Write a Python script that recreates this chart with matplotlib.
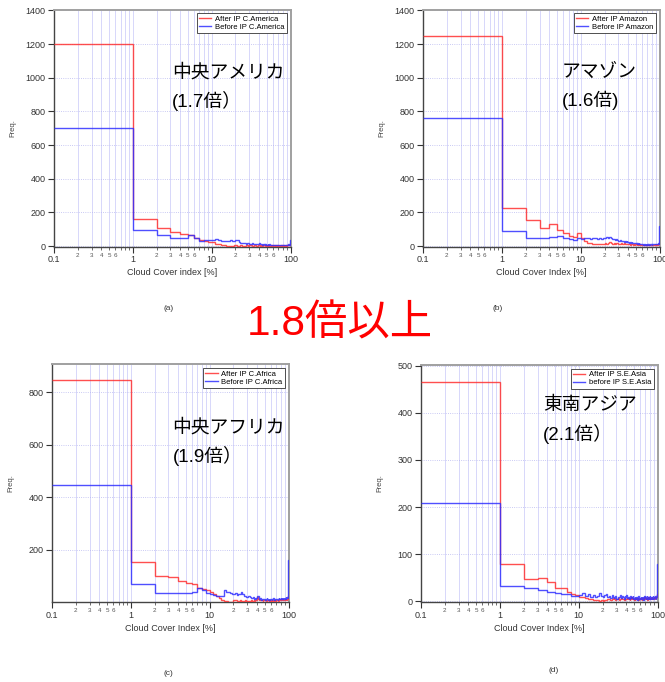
import numpy as np
import matplotlib.pyplot as plt
from matplotlib.ticker import LogLocator, FixedLocator, FuncFormatter, NullFormatter

plt.rcParams['font.family'] = ['Liberation Sans', 'Noto Sans CJK JP', 'DejaVu Sans']

# bin edges: one wide bin 0.1-1 %, then 1 % bins up to 100 %
edges = [0.1] + list(range(1, 101))

# C.America
a_after = [1200,
           160, 110, 85, 70, 68, 45, 35, 30, 25,
           22, 15, 10, 6, 4, 3, 2, 2, 3, 4,
           5, 3, 2, 4, 3, 2, 3, 5, 4, 3,
           4, 5, 3, 2, 4, 6, 3, 2, 3, 4,
           5, 3, 4, 2, 3, 5, 4, 3, 2, 4,
           3, 2, 4, 5, 3, 2, 3, 4, 2, 3,
           4, 3, 2, 3, 5, 4, 2, 3, 4, 3,
           2, 4, 3, 5, 3, 2, 4, 3, 2, 4,
           3, 5, 4, 2, 3, 4, 3, 2, 5, 4,
           3, 4, 6, 5, 4, 6, 5, 7, 8, 12]
a_before = [700,
            95, 65, 50, 48, 65, 45, 30, 35, 35,
            35, 40, 38, 30, 32, 28, 30, 33, 30, 28,
            35, 33, 22, 20, 18, 20, 17, 15, 18, 16,
            15, 14, 16, 12, 15, 13, 11, 14, 12, 10,
            18, 12, 10, 11, 9, 10, 12, 8, 10, 9,
            8, 10, 7, 9, 11, 8, 6, 9, 7, 8,
            6, 8, 7, 5, 9, 6, 7, 5, 8, 6,
            5, 7, 6, 8, 5, 4, 7, 6, 5, 8,
            6, 5, 7, 9, 6, 5, 8, 6, 7, 5,
            7, 9, 6, 8, 10, 7, 9, 8, 12, 35]

# Amazon
b_after = [1245,
           225, 155, 110, 130, 95, 75, 60, 55, 75,
           45, 30, 20, 18, 15, 12, 14, 10, 12, 15,
           18, 15, 20, 22, 18, 15, 17, 14, 18, 20,
           15, 12, 18, 14, 10, 16, 12, 15, 10, 12,
           14, 10, 8, 12, 15, 10, 8, 12, 9, 11,
           10, 8, 12, 9, 7, 10, 8, 6, 9, 8,
           6, 8, 5, 7, 9, 6, 5, 8, 6, 7,
           5, 7, 6, 4, 8, 6, 5, 7, 9, 6,
           8, 6, 9, 7, 5, 8, 10, 7, 9, 8,
           10, 8, 12, 9, 11, 13, 10, 12, 15, 20]
b_before = [760,
            90, 50, 50, 55, 60, 45, 40, 35, 45,
            40, 45, 48, 42, 45, 50, 44, 48, 42, 46,
            50, 55, 48, 52, 45, 40, 44, 38, 42, 36,
            32, 35, 30, 28, 32, 26, 30, 25, 28, 22,
            25, 20, 24, 18, 22, 20, 17, 21, 19, 16,
            18, 15, 17, 14, 16, 13, 15, 12, 14, 11,
            10, 12, 9, 11, 13, 10, 8, 11, 9, 12,
            10, 8, 11, 13, 9, 12, 10, 14, 11, 9,
            12, 10, 13, 11, 14, 12, 10, 13, 15, 12,
            14, 12, 15, 13, 16, 14, 17, 15, 18, 120]

# C.Africa
c_after = [848,
           155, 100, 95, 80, 72, 68, 55, 50, 45,
           38, 32, 22, 15, 8, 5, 3, 2, 1, 2,
           8, 10, 6, 4, 8, 6, 3, 5, 7, 4,
           6, 4, 5, 8, 6, 4, 7, 5, 8, 10,
           18, 12, 9, 8, 10, 7, 9, 6, 8, 10,
           7, 9, 6, 8, 10, 7, 5, 8, 6, 9,
           7, 5, 8, 10, 6, 9, 7, 5, 8, 6,
           9, 7, 10, 8, 6, 9, 11, 7, 8, 10,
           8, 11, 9, 7, 10, 12, 8, 10, 9, 11,
           10, 12, 9, 11, 13, 10, 12, 14, 15, 25]
c_before = [447,
            70, 35, 36, 36, 37, 38, 55, 45, 35,
            30, 28, 25, 22, 25, 45, 40, 38, 35, 32,
            30, 35, 28, 32, 30, 38, 30, 25, 22, 20,
            18, 22, 20, 17, 15, 18, 14, 16, 12, 15,
            25, 22, 14, 12, 15, 10, 13, 11, 14, 12,
            10, 13, 11, 15, 12, 9, 12, 10, 14, 11,
            12, 10, 13, 11, 15, 12, 10, 14, 11, 13,
            11, 14, 12, 10, 13, 15, 11, 14, 12, 16,
            13, 11, 15, 12, 14, 16, 12, 15, 13, 17,
            14, 16, 13, 18, 15, 17, 20, 16, 25, 160]

# S.E.Asia
d_after = [465,
           80, 47, 49, 41, 28, 28, 20, 15, 14,
           10, 9, 6, 5, 4, 3, 2, 2, 1, 2,
           1, 3, 2, 4, 5, 3, 4, 6, 5, 3,
           4, 6, 3, 5, 7, 4, 5, 3, 6, 4,
           5, 7, 4, 6, 3, 5, 8, 4, 6, 5,
           3, 6, 4, 7, 5, 4, 6, 3, 5, 7,
           4, 6, 5, 3, 7, 5, 4, 6, 8, 5,
           6, 4, 7, 5, 3, 6, 8, 5, 4, 7,
           5, 7, 4, 6, 8, 5, 7, 4, 6, 8,
           6, 8, 5, 7, 9, 6, 8, 10, 12, 15]
d_before = [208,
            33, 29, 24, 20, 17, 16, 15, 12, 12,
            14, 18, 12, 16, 10, 13, 9, 12, 18, 11,
            8, 13, 15, 9, 12, 7, 14, 10, 6, 12,
            5, 10, 8, 13, 6, 11, 9, 4, 12, 8,
            14, 7, 10, 5, 9, 12, 6, 8, 11, 4,
            7, 10, 5, 9, 6, 3, 8, 11, 5, 7,
            4, 9, 6, 10, 5, 8, 3, 7, 11, 6,
            9, 4, 8, 12, 5, 7, 10, 4, 8, 6,
            11, 5, 9, 7, 4, 10, 6, 12, 5, 8,
            7, 10, 6, 12, 8, 5, 11, 9, 14, 80]

panels = [
    # rect, after, before, legend labels, y ticks, ylim, xlabel, note, note pos, caption
    ([0.081, 0.638, 0.356, 0.348], a_after, a_before,
     ("After IP C.America", "Before IP C.America"),
     [0, 200, 400, 600, 800, 1000, 1200, 1400], (-5, 1405),
     "Cloud Cover index [%]", "中央アメリカ\n(1.7倍）", (0.50, 0.77), "(a)", (0.253, 0.548)),
    ([0.636, 0.638, 0.356, 0.348], b_after, b_before,
     ("After IP Amazon", "Before IP Amazon"),
     [0, 200, 400, 600, 800, 1000, 1200, 1400], (-5, 1405),
     "Cloud Cover Index [%]", "アマゾン\n(1.6倍)", (0.585, 0.77), "(b)", (0.749, 0.548)),
    ([0.078, 0.117, 0.356, 0.349], c_after, c_before,
     ("After IP C.Africa", "Before IP C.Africa"),
     [200, 400, 600, 800], (0, 908),
     "Cloud Cover Index [%]", "中央アフリカ\n(1.9倍）", (0.51, 0.77), "(c)", (0.253, 0.013)),
    ([0.633, 0.117, 0.356, 0.348], d_after, d_before,
     ("After IP S.E.Asia", "before IP S.E.Asia"),
     [0, 100, 200, 300, 400, 500], (-2, 502),
     "Cloud Cover Index [%]", "東南アジア\n(2.1倍）", (0.515, 0.865), "(d)", (0.833, 0.017)),
]

fig = plt.figure(figsize=(6.65, 6.82), dpi=100)


def minor_label(v, pos):
    lead = round(v / 10 ** np.floor(np.log10(v) + 1e-9))
    return str(int(lead)) if 2 <= lead <= 6 else ""


for rect, after, before, labels, yt, ylim, xlab, note, npos, cap, cpos in panels:
    ax = fig.add_axes(rect)
    ax.stairs(after, edges, baseline=None, color="#ff3030", lw=1.0, alpha=0.85,
              label=labels[0], zorder=3)
    ax.stairs(before, edges, baseline=None, color="#3030ff", lw=1.0, alpha=0.85,
              label=labels[1], zorder=3)

    ax.set_xscale("log")
    ax.set_xlim(0.1, 100)
    ax.set_ylim(*ylim)
    ax.xaxis.set_major_locator(FixedLocator([0.1, 1, 10, 100]))
    ax.xaxis.set_major_formatter(FuncFormatter(lambda v, p: "%g" % v))
    ax.xaxis.set_minor_locator(LogLocator(base=10, subs=range(2, 10), numticks=20))
    ax.xaxis.set_minor_formatter(FuncFormatter(minor_label))
    ax.yaxis.set_major_locator(FixedLocator(yt))
    ax.yaxis.set_minor_formatter(NullFormatter())

    ax.tick_params(axis="both", which="major", direction="out", length=4, width=0.8,
                   labelsize=6.5, colors="#333333", pad=2)
    ax.tick_params(axis="x", which="minor", direction="out", length=2.5, width=0.6,
                   labelsize=4.5, colors="#555555", pad=2)
    ax.tick_params(axis="y", which="minor", left=False)

    ax.grid(True, axis="x", which="both", color="#c8c8f8", lw=0.5)
    ax.grid(True, axis="y", which="major", color="#b8b8f0", lw=0.6, ls=":")
    ax.set_axisbelow(True)

    for side in ("left", "bottom"):
        ax.spines[side].set_color("#444444")
        ax.spines[side].set_linewidth(1.0)
    for side in ("top", "right"):
        ax.spines[side].set_color("#a0a0a0")
        ax.spines[side].set_linewidth(1.4)

    ax.set_xlabel(xlab, fontsize=6.5, color="#333333", labelpad=3)
    ax.set_ylabel("Freq.", fontsize=5.5, color="#444444")
    ax.yaxis.set_label_coords(-0.16, 0.5)

    leg = ax.legend(loc="upper right", fontsize=5.5, frameon=True, fancybox=False,
                    edgecolor="#333333", framealpha=1, handlelength=1.6,
                    handletextpad=0.5, borderpad=0.3, labelspacing=0.1,
                    borderaxespad=0.5)
    leg.get_frame().set_linewidth(0.6)

    ax.text(npos[0], npos[1], note, transform=ax.transAxes, ha="left", va="top",
            fontsize=13.5, color="black", linespacing=1.6)

    fig.text(cpos[0], cpos[1], cap, ha="center", va="center", fontsize=6, color="#333333")

fig.text(0.511, 1 - 324 / 682, "1.8倍以上", ha="center", va="center",
         fontsize=30.5, color="#ff0000")

fig.savefig("out.png", dpi=100)
